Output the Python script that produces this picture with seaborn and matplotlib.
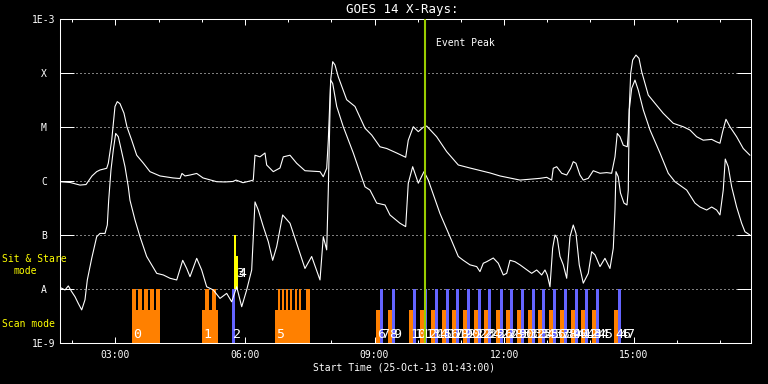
import matplotlib
matplotlib.use('Agg')
import matplotlib.pyplot as plt
import matplotlib.ticker as mticker
import seaborn as sns
import numpy as np

# time axis: decimal hours of 25-Oct-13, plot starts 01:43:00 and covers 16 h
t_start = 1 + 43 / 60
t_end = t_start + 16

# GOES long channel (1-8 A), W m^-2
long_t = [
    1.717, 1.948, 2.180, 2.319, 2.458, 2.566, 2.643, 2.798, 2.835, 2.914,
    2.990, 3.043, 3.106, 3.198, 3.268, 3.377, 3.493, 3.645, 3.800, 4.032,
    4.333, 4.495, 4.541, 4.611, 4.727, 4.882, 5.028, 5.345, 5.537, 5.722,
    5.792, 5.954, 6.116, 6.192, 6.232, 6.347, 6.463, 6.502, 6.655, 6.810,
    6.887, 7.042, 7.197, 7.389, 7.737, 7.813, 7.892, 7.929, 7.984, 8.031,
    8.084, 8.160, 8.355, 8.547, 8.779, 8.934, 9.126, 9.281, 9.513, 9.721,
    9.781, 9.897, 10.013, 10.128, 10.207, 10.438, 10.670, 10.939, 11.210, 11.673,
    11.905, 12.368, 12.830, 12.986, 13.101, 13.138, 13.217, 13.333, 13.449, 13.541,
    13.601, 13.664, 13.756, 13.833, 13.949, 14.064, 14.220, 14.375, 14.490, 14.567,
    14.620, 14.683, 14.759, 14.852, 14.875, 14.931, 14.977, 15.053, 15.123, 15.185,
    15.338, 15.493, 15.685, 15.917, 16.148, 16.303, 16.458, 16.611, 16.806, 16.921,
    16.998, 17.060, 17.137, 17.229, 17.384, 17.537, 17.692]
long_flux = [
    9.7e-7, 9.4e-7, 8.4e-7, 8.6e-7, 1.24e-6, 1.49e-6, 1.60e-6, 1.72e-6, 2.13e-6, 5.7e-6,
    2.4e-5, 2.95e-5, 2.7e-5, 1.8e-5, 1.0e-5, 5.7e-6, 3.0e-6, 2.15e-6, 1.49e-6, 1.24e-6,
    1.14e-6, 1.11e-6, 1.38e-6, 1.24e-6, 1.29e-6, 1.38e-6, 1.14e-6, 9.7e-7, 9.6e-7, 9.8e-7,
    1.04e-6, 9.3e-7, 1.0e-6, 1.04e-6, 3.0e-6, 2.8e-6, 3.3e-6, 1.98e-6, 1.49e-6, 1.74e-6,
    2.8e-6, 3.0e-6, 2.13e-6, 1.55e-6, 1.49e-6, 1.20e-6, 1.72e-6, 5.7e-6, 7.4e-5, 1.62e-4,
    1.41e-4, 8.5e-5, 3.2e-5, 2.4e-5, 9.5e-6, 7.1e-6, 4.3e-6, 4.0e-6, 3.3e-6, 2.75e-6,
    5.7e-6, 1.01e-5, 8.2e-6, 9.9e-6, 1.04e-5, 6.6e-6, 3.5e-6, 1.98e-6, 1.74e-6, 1.41e-6,
    1.24e-6, 1.04e-6, 1.12e-6, 1.17e-6, 1.04e-6, 1.72e-6, 1.84e-6, 1.39e-6, 1.29e-6, 1.72e-6,
    2.28e-6, 2.13e-6, 1.29e-6, 1.04e-6, 1.12e-6, 1.55e-6, 1.39e-6, 1.43e-6, 1.39e-6, 2.8e-6,
    7.6e-6, 6.6e-6, 4.6e-6, 4.3e-6, 7.6e-6, 9.9e-5, 1.74e-4, 2.15e-4, 1.87e-4, 1.06e-4,
    3.9e-5, 2.75e-5, 1.79e-5, 1.17e-5, 1.01e-5, 8.8e-6, 6.6e-6, 5.7e-6, 5.9e-6, 5.3e-6,
    5.0e-6, 8.2e-6, 1.39e-5, 1.01e-5, 6.6e-6, 4.0e-6, 3.0e-6]

# GOES short channel (0.5-4 A), W m^-2
short_t = [
    1.717, 1.832, 1.909, 1.988, 2.064, 2.140, 2.219, 2.295, 2.349, 2.451,
    2.566, 2.643, 2.759, 2.812, 2.844, 2.897, 2.951, 3.006, 3.067, 3.145,
    3.222, 3.298, 3.337, 3.453, 3.569, 3.724, 3.956, 4.108, 4.264, 4.419,
    4.558, 4.650, 4.727, 4.882, 4.997, 5.113, 5.266, 5.421, 5.576, 5.692,
    5.808, 5.924, 6.039, 6.155, 6.232, 6.308, 6.424, 6.540, 6.641, 6.734,
    6.873, 7.042, 7.197, 7.389, 7.544, 7.737, 7.813, 7.892, 7.929, 7.984,
    8.031, 8.124, 8.276, 8.508, 8.779, 8.894, 9.050, 9.242, 9.357, 9.589,
    9.721, 9.781, 9.883, 10.013, 10.145, 10.244, 10.515, 10.746, 10.939, 11.055,
    11.210, 11.365, 11.441, 11.518, 11.596, 11.749, 11.865, 11.981, 12.059, 12.136,
    12.252, 12.368, 12.483, 12.638, 12.754, 12.870, 12.946, 12.999, 13.062, 13.124,
    13.178, 13.231, 13.294, 13.370, 13.449, 13.525, 13.601, 13.664, 13.740, 13.833,
    13.949, 14.027, 14.104, 14.220, 14.335, 14.451, 14.528, 14.567, 14.590, 14.643,
    14.694, 14.775, 14.845, 14.875, 14.898, 14.954, 15.030, 15.107, 15.223, 15.378,
    15.609, 15.801, 15.956, 16.227, 16.419, 16.535, 16.690, 16.806, 16.921, 16.998,
    17.074, 17.121, 17.190, 17.269, 17.384, 17.500, 17.576, 17.692]
short_flux = [
    1.07e-8, 9.6e-9, 1.14e-8, 8.9e-9, 7.2e-9, 5.4e-9, 4.1e-9, 6.3e-9, 1.47e-8, 3.7e-8,
    9.3e-8, 1.07e-7, 1.07e-7, 1.53e-7, 4.4e-7, 1.60e-6, 3.75e-6, 7.6e-6, 6.6e-6, 3.5e-6,
    1.84e-6, 7.8e-7, 4.4e-7, 1.90e-7, 9.3e-8, 4.0e-8, 1.95e-8, 1.82e-8, 1.58e-8, 1.47e-8,
    3.4e-8, 2.4e-8, 1.69e-8, 3.7e-8, 2.25e-8, 1.10e-8, 9.6e-9, 6.7e-9, 8.3e-9, 5.8e-9,
    1.10e-8, 4.7e-9, 9.6e-9, 2.25e-8, 4.1e-7, 2.9e-7, 1.43e-7, 7.5e-8, 3.4e-8, 6.1e-8,
    2.35e-7, 1.65e-7, 7.0e-8, 2.4e-8, 4.0e-8, 1.47e-8, 9.3e-8, 5.3e-8, 6.8e-7, 7.4e-5,
    6.4e-5, 2.4e-5, 1.01e-5, 3.3e-6, 7.8e-7, 6.8e-7, 3.9e-7, 3.6e-7, 2.35e-7, 1.65e-7,
    1.43e-7, 9.1e-7, 1.84e-6, 9.1e-7, 1.49e-6, 1.04e-6, 2.5e-7, 9.3e-8, 4.0e-8, 3.4e-8,
    2.8e-8, 2.6e-8, 2.1e-8, 3.0e-8, 3.2e-8, 3.75e-8, 3.0e-8, 1.82e-8, 1.95e-8, 3.4e-8,
    3.2e-8, 2.8e-8, 2.4e-8, 1.95e-8, 2.25e-8, 1.82e-8, 2.25e-8, 1.82e-8, 1.10e-8, 5.7e-8,
    1.0e-7, 8.7e-8, 4.0e-8, 2.8e-8, 1.58e-8, 9.3e-8, 1.53e-7, 1.07e-7, 2.8e-8, 1.28e-8,
    1.95e-8, 4.9e-8, 4.3e-8, 2.6e-8, 3.7e-8, 2.4e-8, 5.7e-8, 2.9e-7, 1.49e-6, 1.20e-6,
    6.0e-7, 3.9e-7, 3.6e-7, 6.8e-7, 2.07e-5, 5.2e-5, 7.4e-5, 4.8e-5, 2.07e-5, 8.8e-6,
    3.3e-6, 1.39e-6, 9.7e-7, 6.8e-7, 3.9e-7, 3.3e-7, 2.9e-7, 3.3e-7, 2.9e-7, 2.35e-7,
    6.8e-7, 2.55e-6, 1.84e-6, 7.8e-7, 3.3e-7, 1.65e-7, 1.15e-7, 1.0e-7]

goes_levels = [1e-3, 1e-4, 1e-5, 1e-6, 1e-7, 1e-8, 1e-9]
goes_labels = ['1E-3', 'X', 'M', 'C', 'B', 'A', '1E-9']

event_peak = 10.174

# early raster groups (scan mode)
group_start = [3.384, 5.004, 6.695]
group_end = [4.032, 5.375, 7.505]
group_ids = [0, 1, 5]
raster_t = [3.384, 3.523, 3.662, 3.801, 3.940, 5.074, 5.236,
            6.764, 6.857, 6.949, 7.042, 7.151, 7.243, 7.413]
raster_dur = [0.093, 0.093, 0.093, 0.093, 0.093, 0.093, 0.093,
              0.046, 0.046, 0.046, 0.046, 0.046, 0.046, 0.093]

# later scans (orange) and paired observations (blue)
scan_t = [9.033, 9.311, 9.797, 10.052, 10.307, 10.561, 10.793, 11.048, 11.302, 11.534,
          11.812, 12.043, 12.298, 12.552, 12.784, 13.039, 13.294, 13.548, 13.780, 14.035,
          14.544]
scan_ids = [6, 8, 10, 12, 14, 16, 18, 20, 22, 24, 26, 28, 30, 32, 34, 36, 38, 40, 42, 44, 46]
blue_t = [5.699, 9.126, 9.404, 9.890, 10.144, 10.399, 10.647, 10.892, 11.140, 11.395,
          11.626, 11.897, 12.136, 12.391, 12.645, 12.877, 13.131, 13.386, 13.641, 13.872,
          14.127, 14.636]
blue_ids = [2, 7, 9, 11, 13, 15, 17, 19, 21, 23, 25, 27, 29, 31, 33, 35, 37, 39, 41, 43, 45, 47]
scan_dur = 0.093
blue_dur = 0.069

# sit & stare observations
sit_t = [5.752, 5.799]
sit_dur = [0.046, 0.032]
sit_top = [1e-7, 4.0e-8]
sit_ids = [3, 4]

floor = 1e-9
scan_level = 4.1e-9
obs_level = 1e-8
label_y = 1.24e-9
sit_label_y = 1.65e-8

orange = '#ff8000'
blue = '#6464ff'
yellow = '#ffff00'
green = '#99cc00'

sns.set_theme(style='ticks')
plt.rcParams['font.family'] = ['DejaVu Sans Mono']

fig = plt.figure(figsize=(7.68, 3.84), dpi=100, facecolor='black')
ax = fig.add_axes([60 / 768, 41 / 384, 691 / 768, 324 / 384])
ax.set_facecolor('black')
ax.set_yscale('log')
ax.set_xlim(t_start, t_end)
ax.set_ylim(1e-9, 1e-3)

# observation bars
ax.bar(group_start, scan_level - floor, width=np.subtract(group_end, group_start),
       bottom=floor, align='edge', color=orange, linewidth=0, zorder=1)
ax.bar(raster_t, obs_level - floor, width=raster_dur, bottom=floor,
       align='edge', color=orange, linewidth=0, zorder=1)
ax.bar(scan_t, scan_level - floor, width=scan_dur, bottom=floor,
       align='edge', color=orange, linewidth=0, zorder=1)
ax.bar(blue_t, obs_level - floor, width=blue_dur, bottom=floor,
       align='edge', color=blue, linewidth=0, zorder=1)
ax.bar(sit_t, np.subtract(sit_top, obs_level), width=sit_dur, bottom=obs_level,
       align='edge', color=yellow, linewidth=0, zorder=1)

# light curves
sns.lineplot(x=long_t, y=long_flux, ax=ax, color='white', linewidth=0.8,
             estimator=None, sort=False, zorder=3)
sns.lineplot(x=short_t, y=short_flux, ax=ax, color='white', linewidth=0.8,
             estimator=None, sort=False, zorder=3)

# observation numbers
for t, i in list(zip(group_start, group_ids)) + list(zip(scan_t, scan_ids)) + list(zip(blue_t, blue_ids)):
    ax.annotate(str(i), xy=(t, label_y), xytext=(1, 0), textcoords='offset points',
                color='white', fontsize=9.5, ha='left', va='baseline', zorder=4)
for t, i in zip(sit_t, sit_ids):
    ax.annotate(str(i), xy=(t, sit_label_y), xytext=(1.5, 0), textcoords='offset points',
                color='white', fontsize=9.5, ha='left', va='baseline', zorder=4)

# event peak marker
ax.axvline(event_peak, color=green, linewidth=1.5, zorder=5)
ax.annotate('Event Peak', xy=(event_peak, 3.6e-4), xytext=(8, 0), textcoords='offset points',
            color='white', fontsize=7, ha='left', va='center')

# axes styling
ax.set_yticks(goes_levels)
ax.set_yticklabels(goes_labels)
ax.yaxis.set_minor_locator(mticker.NullLocator())
ax.grid(axis='y', which='major', color='white', linestyle=(0, (1, 3)), linewidth=0.72, zorder=0)
ax.tick_params(axis='y', which='major', direction='in', length=10, width=0.72,
               left=True, right=True, color='white', labelcolor='white', labelsize=7, pad=11.5)
for lab in ax.get_yticklabels():
    lab.set_horizontalalignment('center')

ax.xaxis.set_major_locator(mticker.MultipleLocator(3))
ax.xaxis.set_minor_locator(mticker.MultipleLocator(1))
ax.xaxis.set_major_formatter(mticker.FuncFormatter(lambda v, p: '%02d:00' % int(round(v))))
ax.tick_params(axis='x', which='major', direction='in', length=4.3, width=0.72,
               top=True, bottom=True, color='white', labelcolor='white', labelsize=7, pad=5)
ax.tick_params(axis='x', which='minor', direction='in', length=2.4, width=0.72,
               top=True, bottom=True, color='white')
for s in ax.spines.values():
    s.set_color('white')
    s.set_linewidth(0.75)
ax.set_xlabel('')
ax.set_ylabel('')

fig.text(402 / 768, 1 - 10 / 384, 'GOES 14 X-Rays:', color='white', fontsize=9,
         ha='center', va='center')
fig.text(404 / 768, 1 - 368 / 384, 'Start Time (25-Oct-13 01:43:00)', color='white',
         fontsize=7, ha='center', va='center')
fig.text(2 / 768, 1 - 259 / 384, 'Sit & Stare', color=yellow, fontsize=7, ha='left', va='center')
fig.text(13 / 768, 1 - 271 / 384, 'mode', color=yellow, fontsize=7, ha='left', va='center')
fig.text(2 / 768, 1 - 324 / 384, 'Scan mode', color=yellow, fontsize=7, ha='left', va='center')

fig.savefig('out.png', dpi=100, facecolor='black')
